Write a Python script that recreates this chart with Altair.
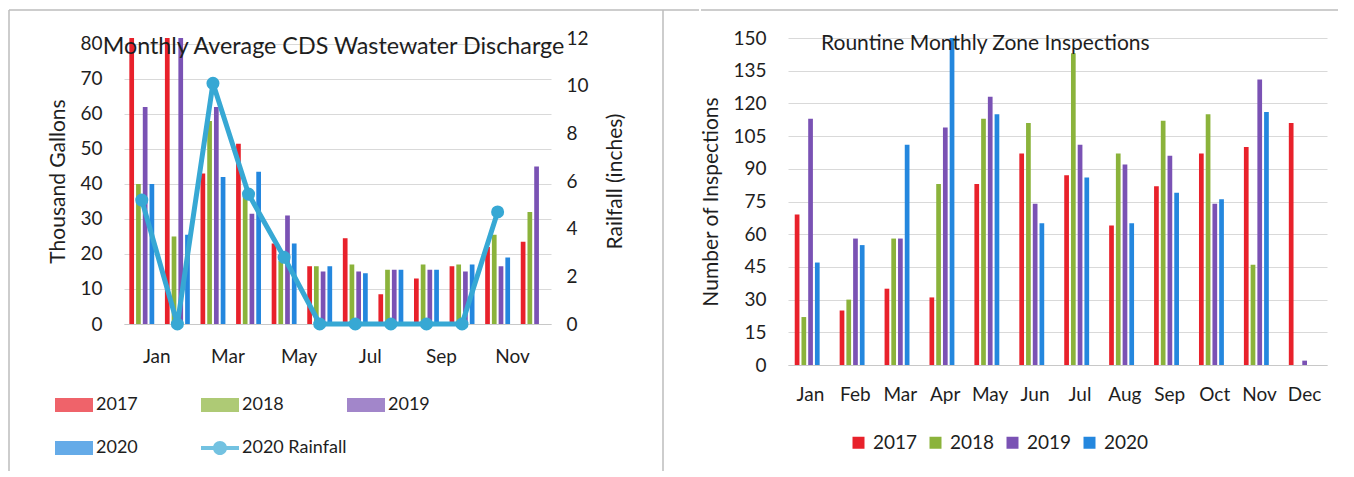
import altair as alt
import pandas as pd

months = ["Jan", "Feb", "Mar", "Apr", "May", "Jun", "Jul", "Aug", "Sep", "Oct", "Nov", "Dec"]
years = ["2017", "2018", "2019", "2020"]

# Left panel: Monthly Average CDS Wastewater Discharge (thousand gallons)
cds_2017 = [85, 85, 43, 51.5, 23, 16.5, 24.5, 8.5, 13, 16.5, 22, 23.5]
cds_2018 = [40, 25, 58, 37, 18, 16.5, 17, 15.5, 17, 17, 25.5, 32]
cds_2019 = [62, 85, 62, 31.5, 31, 15, 15, 15.5, 15.5, 15, 16.5, 45]
cds_2020 = [40, 25.5, 42, 43.5, 23, 16.5, 14.5, 15.5, 15.5, 17, 19, None]
rain_2020 = [5.2, 0, 10.1, 5.45, 2.8, 0, 0, 0, 0, 0, 4.7, None]

# Right panel: Routine Monthly Zone Inspections
insp_2017 = [69, 25, 35, 31, 83, 97, 87, 64, 82, 97, 100, 111]
insp_2018 = [22, 30, 58, 83, 113, 111, 143, 97, 112, 115, 46, 0]
insp_2019 = [113, 58, 58, 109, 123, 74, 101, 92, 96, 74, 131, 2]
insp_2020 = [47, 55, 101, 150, 115, 65, 86, 65, 79, 76, 116, 0]

colors = ["#e8212b", "#8bb33b", "#7a52b4", "#2487de"]
rain_color = "#37a8d4"
frame_color = "#bdbdbd"
FONT = "Lato"
TXT = "#1e1e1e"


def long_table(series, field):
    rows = []
    for yr, vals in zip(years, series):
        for m, v in zip(months, vals):
            if v is not None:
                rows.append({"month": m, "year": yr, field: v})
    return pd.DataFrame(rows)


cds = long_table([cds_2017, cds_2018, cds_2019, cds_2020], "value")
rain = pd.DataFrame([{"month": m, "rain": r} for m, r in zip(months, rain_2020) if r is not None])
insp = long_table([insp_2017, insp_2018, insp_2019, insp_2020], "value")
one = pd.DataFrame({"k": [0]})

band = alt.Scale(paddingInner=0.3, paddingOuter=0.15)
offs = alt.Scale(paddingInner=0.3, paddingOuter=0)
year_color = alt.Scale(domain=years, range=colors)

# ---------------- left panel ----------------
x_left = alt.X(
    "month:N", sort=months, scale=band,
    axis=alt.Axis(
        title=None, labelAngle=0, ticks=False, domainColor="#c8c8c8",
        labelFontSize=19, labelPadding=23, labelOffset=15, labelOverlap=False,
        labelExpr="indexof(['Jan','Mar','May','Jul','Sep','Nov'], datum.value) >= 0 ? datum.value : ''",
    ),
)

bars_l = alt.Chart(cds).mark_bar(clip=True).encode(
    x=x_left,
    xOffset=alt.XOffset("year:N", sort=years, scale=offs),
    y=alt.Y(
        "value:Q", scale=alt.Scale(domain=[0, 81.7], nice=False),
        axis=alt.Axis(
            title="Thousand Gallons", values=list(range(0, 81, 10)), ticks=False,
            domain=False, labelPadding=22, titlePadding=11, labelFontSize=19,
            titleFontSize=21,
        ),
    ),
    color=alt.Color("year:N", scale=year_color, legend=None),
)

line_l = alt.Chart(rain).mark_line(
    color=rain_color, strokeWidth=5,
    point=alt.OverlayMarkDef(filled=True, size=170, color=rain_color),
).encode(
    x=alt.X("month:N", sort=months),
    y=alt.Y(
        "rain:Q", scale=alt.Scale(domain=[0, 12], nice=False),
        axis=alt.Axis(
            title="Railfall (inches)", orient="right", values=list(range(0, 13, 2)),
            grid=False, ticks=False, domain=False, labelPadding=15, titlePadding=37,
            labelFontSize=19, titleFontSize=21, titleAngle=270,
        ),
    ),
)

leg_names = years + ["2020 Rainfall"]
bar_path = "M-1,-0.37H1V0.37H-1Z"
line_path = "M-1,-0.1H1V0.1H-1Z M0.37,0A0.37,0.37 0 1,1 -0.37,0A0.37,0.37 0 1,1 0.37,0Z"
leg_props = dict(
    orient="none", legendX=-69, legendY=348, columns=3, direction="horizontal",
    gridAlign="all", symbolSize=1444, symbolStrokeWidth=0, labelFontSize=18,
    labelOffset=3, columnPadding=0, rowPadding=15, title=None, padding=0,
)
legend_l = alt.Chart(pd.DataFrame({"series": leg_names})).mark_point(filled=True).encode(
    color=alt.Color("series:N", scale=alt.Scale(domain=leg_names, range=colors + [rain_color]),
                    legend=alt.Legend(**leg_props)),
    shape=alt.Shape("series:N", scale=alt.Scale(domain=leg_names, range=[bar_path] * 4 + [line_path]),
                    legend=alt.Legend(**leg_props)),
).transform_filter("false")

# light frame of the scanned page: left edge, top edge, divider between panels
frame_l_top = alt.Chart(one).mark_rule(color=frame_color, strokeWidth=1.5).encode(
    x=alt.value(-115), x2=alt.value(575), y=alt.value(-28))
frame_l_left = alt.Chart(one).mark_rule(color=frame_color, strokeWidth=1.5).encode(
    x=alt.value(-115), y=alt.value(-28), y2=alt.value(433))
frame_divider = alt.Chart(one).mark_rule(color=frame_color, strokeWidth=1.5).encode(
    x=alt.value(539), y=alt.value(-28), y2=alt.value(433))

left = alt.layer(frame_l_top, frame_l_left, frame_divider, bars_l, line_l, legend_l).resolve_scale(
    y="independent", color="independent", shape="independent"
).properties(
    width=427, height=286,
    title=alt.TitleParams(
        "Monthly Average CDS Wastewater Discharge", frame="group", anchor="middle",
        baseline="alphabetic", offset=-16, dy=52, dx=-4, fontSize=23.3, fontWeight="normal",
        font=FONT, color=TXT,
    ),
)

# ---------------- right panel ----------------
bars_r = alt.Chart(insp).mark_bar().encode(
    x=alt.X(
        "month:N", sort=months, scale=band,
        axis=alt.Axis(title=None, labelAngle=0, ticks=False, domainColor="#c8c8c8",
                      labelFontSize=19, labelPadding=20, labelOverlap=False),
    ),
    xOffset=alt.XOffset("year:N", sort=years, scale=offs),
    y=alt.Y(
        "value:Q", scale=alt.Scale(domain=[0, 150], nice=False),
        axis=alt.Axis(
            title="Number of Inspections", values=list(range(0, 151, 15)), ticks=False,
            domain=False, labelPadding=22, titlePadding=11, labelFontSize=19,
            titleFontSize=21,
        ),
    ),
    color=alt.Color(
        "year:N", scale=year_color,
        legend=alt.Legend(
            orient="none", legendX=61, legendY=395, direction="horizontal",
            symbolType="square", symbolSize=144, symbolStrokeWidth=0,
            labelFontSize=19, labelOffset=5, columnPadding=8, title=None, padding=0,
        ),
    ),
)

frame_r_top = alt.Chart(one).mark_rule(color=frame_color, strokeWidth=1.5).encode(
    x=alt.value(-87), x2=alt.value(550), y=alt.value(-28))

right = alt.layer(frame_r_top, bars_r).properties(
    width=539, height=327,
    title=alt.TitleParams(
        "Rountine Monthly Zone Inspections", frame="group", anchor="start", dx=33,
        baseline="alphabetic", offset=-17, dy=45, fontSize=21, fontWeight="normal",
        font=FONT, color=TXT,
    ),
)

chart = alt.hconcat(left, right, spacing=0).resolve_scale(
    color="independent", shape="independent"
).properties(
    padding={"left": 0, "top": 1, "right": 0, "bottom": 0},
    background="white",
).configure_view(stroke=None).configure_axis(
    labelFont=FONT, titleFont=FONT, labelColor=TXT, titleColor=TXT,
    gridColor="#d9d9d9", titleFontWeight="normal",
).configure_legend(labelFont=FONT, labelColor=TXT)

chart.save("out.html", embed_options={"renderer": "svg", "actions": False})
